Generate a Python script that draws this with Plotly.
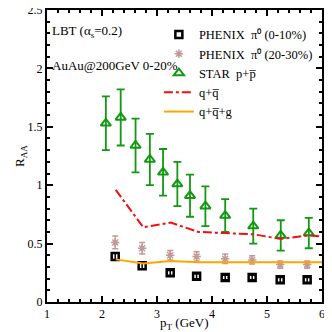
import plotly.graph_objects as go

# PHENIX pi0 (0-10%)
phx_c_pt = [2.24, 2.73, 3.24, 3.72, 4.24, 4.73, 5.24, 5.73]
phx_c_raa = [0.39, 0.31, 0.25, 0.22, 0.21, 0.21, 0.19, 0.19]
phx_c_err = [0.03, 0.025, 0.02, 0.02, 0.02, 0.02, 0.02, 0.02]

# PHENIX pi0 (20-30%)
phx_p_pt = [2.24, 2.73, 3.24, 3.72, 4.24, 4.73, 5.24, 5.73]
phx_p_raa = [0.51, 0.46, 0.40, 0.39, 0.37, 0.36, 0.32, 0.32]
phx_p_err = [0.055, 0.05, 0.04, 0.04, 0.04, 0.035, 0.03, 0.03]

# STAR p+pbar
star_pt = [2.07, 2.34, 2.61, 2.87, 3.11, 3.37, 3.60, 3.88, 4.24, 4.75, 5.25, 5.76]
star_raa = [1.53, 1.58, 1.34, 1.22, 1.11, 1.01, 0.91, 0.82, 0.74, 0.65, 0.57, 0.59]
star_err = [0.23, 0.24, 0.23, 0.22, 0.20, 0.19, 0.18, 0.17, 0.14, 0.15, 0.13, 0.13]

# LBT curves
lbt_pt = [2.25, 2.75, 3.25, 3.75, 4.25, 4.75, 5.25, 5.75, 6.0]
lbt_qq = [0.96, 0.64, 0.68, 0.60, 0.59, 0.58, 0.54, 0.57, 0.56]
lbt_qqg = [0.365, 0.33, 0.35, 0.34, 0.34, 0.34, 0.34, 0.34, 0.34]

FONT = "Liberation Serif"
GREEN = "#119911"
ROSY = "#c09a98"

fig = go.Figure()

fig.add_trace(go.Scatter(
    x=phx_c_pt, y=phx_c_raa, mode="markers", name="PHENIX  π⁰ (0-10%)",
    marker=dict(symbol="square-open", size=7, color="black", line=dict(width=2.5)),
    error_y=dict(type="data", array=phx_c_err, color="black", thickness=1.5, width=3)
))
fig.add_trace(go.Scatter(
    x=phx_p_pt, y=phx_p_raa, mode="markers", name="PHENIX  π⁰ (20-30%)",
    marker=dict(symbol="asterisk-open", size=7, color=ROSY, line=dict(width=1.5, color=ROSY)),
    error_y=dict(type="data", array=phx_p_err, color=ROSY, thickness=1.5, width=3)
))
fig.add_trace(go.Scatter(
    x=star_pt, y=star_raa, mode="markers", name="STAR  p+p̅",
    marker=dict(symbol="triangle-up-open", size=9, color=GREEN, line=dict(width=2)),
    error_y=dict(type="data", array=star_err, color=GREEN, thickness=1.8, width=4)
))
fig.add_trace(go.Scatter(
    x=lbt_pt, y=lbt_qq, mode="lines", name="q+q̅",
    line=dict(color="#ee1111", width=2, dash="dashdot")
))
fig.add_trace(go.Scatter(
    x=lbt_pt, y=lbt_qqg, mode="lines", name="q+q̅+g",
    line=dict(color="#ffa500", width=2)
))

fig.add_annotation(x=0, y=0.925, xref="paper", yref="paper", xanchor="left", yanchor="middle",
                   xshift=3, text="LBT (α<sub>s</sub>=0.2)", showarrow=False,
                   font=dict(size=13, color="black"))
fig.add_annotation(x=0, y=0.81, xref="paper", yref="paper", xanchor="left", yanchor="middle",
                   xshift=3, text="AuAu@200GeV 0-20%", showarrow=False,
                   font=dict(size=13, color="black"))
# axis titles
fig.add_annotation(x=0.5, y=0, xref="paper", yref="paper", xanchor="center", yanchor="top",
                   yshift=-11, text="p<sub>T</sub> (GeV)", showarrow=False,
                   font=dict(size=13, color="black"))
fig.add_annotation(x=0, y=0.5, xref="paper", yref="paper", xanchor="center", yanchor="middle",
                   xshift=-27, textangle=-90, text="R<sub>AA</sub>", showarrow=False,
                   font=dict(size=13, color="black"))

axis_common = dict(
    showline=True, linecolor="black", linewidth=2, mirror="allticks",
    ticks="inside", tickcolor="black", tickwidth=1.5, ticklen=6,
    showgrid=False, zeroline=False, ticklabeloverflow="allow",
    tickfont=dict(size=12, color="black", family=FONT),
)

fig.update_xaxes(range=[1, 6], dtick=1,
                 minor=dict(dtick=0.2, ticks="inside", ticklen=3, tickcolor="black"), **axis_common)
fig.update_yaxes(range=[0, 2.5], dtick=0.5,
                 minor=dict(dtick=0.1, ticks="inside", ticklen=3, tickcolor="black"), **axis_common)

# the page body adds an 8px offset, margins compensate for it
fig.update_layout(
    width=332, height=332,
    margin=dict(l=39, r=18, t=2, b=38, autoexpand=False),
    paper_bgcolor="white", plot_bgcolor="white",
    font=dict(family=FONT, size=12, color="black"),
    showlegend=True,
    legend=dict(x=0.985, y=0.966, xanchor="right", yanchor="top", bgcolor="rgba(0,0,0,0)",
                font=dict(size=12.5), tracegroupgap=0, itemwidth=30),
)

fig.write_html("out.html")
